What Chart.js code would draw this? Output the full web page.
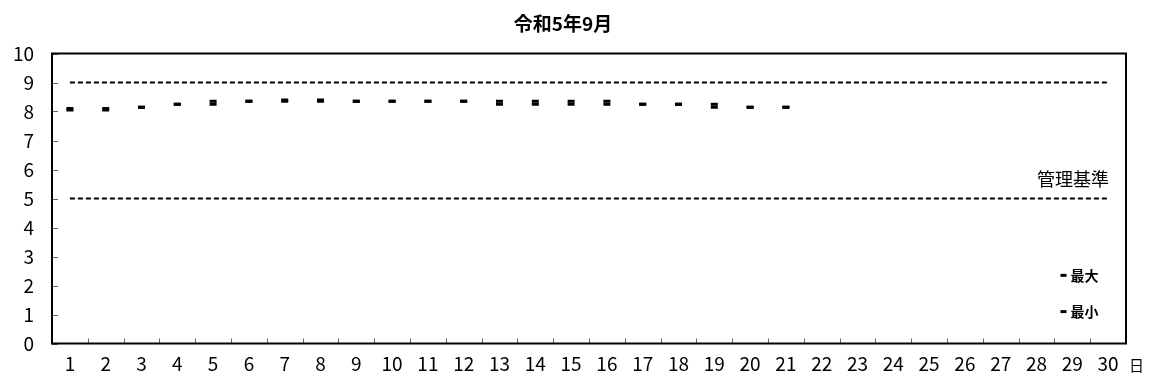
<!DOCTYPE html>
<html><head><meta charset="utf-8">
<script src="https://cdn.jsdelivr.net/npm/chart.js@4/dist/chart.umd.min.js"></script>
<style>html,body{margin:0;padding:0;background:#fff}</style>
</head><body>
<canvas id="c" width="1153" height="385"></canvas>
<script>
const titleText = '令和5年9月';
const days = ['1','2','3','4','5','6','7','8','9','10','11','12','13','14','15','16','17','18','19','20','21','22','23','24','25','26','27','28','29','30'];
const maxValues = [8.1,8.1,8.15,8.25,8.35,8.35,8.4,8.4,8.35,8.35,8.35,8.35,8.35,8.35,8.35,8.35,8.25,8.25,8.25,8.15,8.15,null,null,null,null,null,null,null,null,null];
const minValues = [8.05,8.05,8.15,8.25,8.25,8.35,8.35,8.35,8.35,8.35,8.35,8.35,8.25,8.25,8.25,8.25,8.25,8.25,8.15,8.15,8.15,null,null,null,null,null,null,null,null,null];
const upperLimit = [{x:'1',y:9},{x:'30',y:9}];
const lowerLimit = [{x:'1',y:5},{x:'30',y:5}];
const yTickValues = [0,1,2,3,4,5,6,7,8,9,10];
const limitLabel = '管理基準';
const unitLabel = '日';
const seriesNames = ['最大','最小'];

const FONT = "'Noto Sans CJK JP', 'Noto Sans', sans-serif";

const decor = {
  id: 'decor',
  afterDatasetsDraw(chart) {
    const ctx = chart.ctx, a = chart.chartArea;
    const xs = chart.scales.x, ys = chart.scales.y;
    ctx.save();
    // inward tick marks
    ctx.strokeStyle = '#666'; ctx.lineWidth = 1;
    ctx.beginPath();
    yTickValues.forEach(v => {
      const y = Math.round(ys.getPixelForValue(v)) + 0.5;
      ctx.moveTo(a.left, y); ctx.lineTo(a.left + 6, y);
    });
    for (let i = 0; i < days.length - 1; i++) {
      const x = Math.round((xs.getPixelForValue(i) + xs.getPixelForValue(i + 1)) / 2) + 0.5;
      ctx.moveTo(x, a.bottom); ctx.lineTo(x, a.bottom - 5);
    }
    ctx.stroke();
    // frame
    ctx.strokeStyle = '#000'; ctx.lineWidth = 2;
    ctx.strokeRect(a.left, a.top, a.right - a.left, a.bottom - a.top);
    // limit label
    ctx.fillStyle = '#000';
    ctx.font = '18px ' + FONT;
    ctx.textAlign = 'right'; ctx.textBaseline = 'middle';
    ctx.fillText(limitLabel, xs.getPixelForValue(29) + 1, ys.getPixelForValue(5) - 19);
    // unit label
    ctx.font = '15px ' + FONT;
    ctx.textAlign = 'left';
    ctx.fillText(unitLabel, a.right + 3, a.bottom + 22);
    // legend
    const lx = xs.getPixelForValue(27) + 27;
    const ly = [ys.getPixelForValue(2.35), ys.getPixelForValue(1.1)];
    chart.data.datasets.slice(0, 2).forEach((ds, i) => {
      ctx.strokeStyle = '#000'; ctx.lineWidth = 3;
      ctx.beginPath(); ctx.moveTo(lx - 3, ly[i]); ctx.lineTo(lx + 3, ly[i]); ctx.stroke();
      ctx.font = 'bold 14px ' + FONT;
      ctx.textAlign = 'left';
      ctx.fillText(ds.label, lx + 7, ly[i]);
    });
    ctx.restore();
  }
};

new Chart(document.getElementById('c'), {
  type: 'line',
  data: {
    labels: days,
    datasets: [
      { label: seriesNames[0], data: maxValues, showLine: false, pointStyle: 'line', pointRadius: 3.5, pointBorderWidth: 3, borderColor: '#000', backgroundColor: '#000', pointHoverRadius: 3.5, order: 1 },
      { label: seriesNames[1], data: minValues, showLine: false, pointStyle: 'line', pointRadius: 3.5, pointBorderWidth: 3, borderColor: '#000', backgroundColor: '#000', pointHoverRadius: 3.5, order: 2 },
      { label: 'upper', data: upperLimit, borderColor: '#000', borderWidth: 2, borderDash: [5, 3], pointRadius: 0, fill: false, order: 3 },
      { label: 'lower', data: lowerLimit, borderColor: '#000', borderWidth: 2, borderDash: [5, 3], pointRadius: 0, fill: false, order: 3 }
    ]
  },
  options: {
    responsive: false,
    animation: false,
    devicePixelRatio: 1,
    layout: { padding: { left: 0, right: 27, top: 0, bottom: 0 } },
    plugins: {
      legend: { display: false },
      tooltip: { enabled: false },
      title: { display: true, text: titleText, color: '#000', font: { family: FONT, size: 19, weight: 'bold' }, padding: { top: 12, bottom: 18.7 } }
    },
    scales: {
      x: {
        type: 'category',
        offset: true,
        grid: { display: false, drawTicks: false },
        border: { display: false },
        ticks: { color: '#000', font: { family: FONT, size: 19 }, padding: 9, autoSkip: false, maxRotation: 0 },
        afterFit(s) { s.height = 41.5; }
      },
      y: {
        min: 0, max: 10,
        grid: { display: false, drawTicks: false },
        border: { display: false },
        ticks: { stepSize: 1, color: '#000', font: { family: FONT, size: 19 }, padding: 18 },
        afterFit(s) { s.width = 52; }
      }
    }
  },
  plugins: [decor]
});
</script>
</body></html>
